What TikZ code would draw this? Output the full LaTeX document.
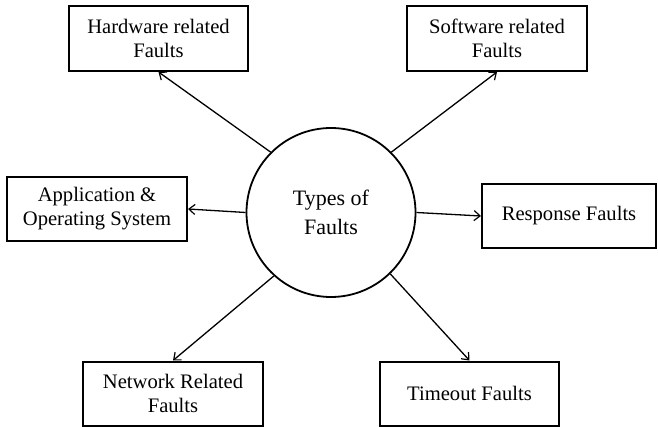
\documentclass[tikz,border=0pt]{standalone}
\usepackage{fontspec}
\setmainfont{Liberation Serif}
\usetikzlibrary{arrows.meta}
\begin{document}
\begin{tikzpicture}[x=1pt,y=-1pt,
  faultbox/.style={draw=black,line width=2pt,minimum height=64pt,inner sep=0pt,align=center,
    font=\fontsize{20.6}{24}\selectfont},
  hub/.style={draw=black,circle,line width=1.8pt,minimum size=169pt,inner sep=0pt,align=center,
    font=\fontsize{22}{29}\selectfont},
  link/.style={line width=1.3pt,-{Straight Barb[length=6pt,width=10pt,line width=1.2pt]}}]
\useasboundingbox (0,0) rectangle (658,427);
\node[hub] (c) at (331,212.5) {Types of\\Faults};
\node[faultbox,minimum width=179pt,minimum height=65pt] (hw) at (158.5,38.5) {Hardware related\\Faults};
\node[faultbox,minimum width=180pt,minimum height=65pt] (sw) at (497,38.5) {Software related\\Faults};
\node[faultbox,minimum width=180pt] (app) at (97,209) {Application \&\\Operating System};
\node[faultbox,minimum width=174pt] (resp) at (569,216) {Response Faults};
\node[faultbox,minimum width=180pt] (net) at (173,393.5) {Network Related\\Faults};
\node[faultbox,minimum width=179pt] (to) at (469.5,393.5) {Timeout Faults};
\draw[link] (c.135) -- (hw.south);
\draw[link] (c.45) -- (sw.south);
\draw[link] (c.west) -- (app.east);
\draw[link] (c.east) -- (resp.west);
\draw[link] (c.228) -- (net.north);
\draw[link] (c.-46) -- (to.north);
\end{tikzpicture}
\end{document}
